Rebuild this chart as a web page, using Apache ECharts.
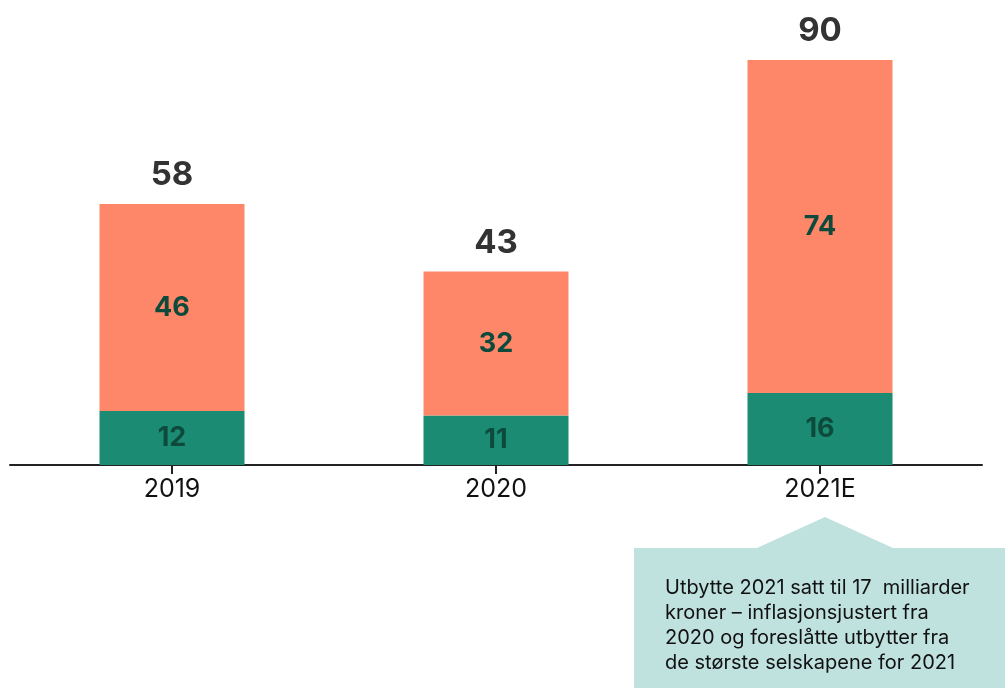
<!DOCTYPE html>
<html>
<head>
<meta charset="utf-8">
<script src="https://cdn.jsdelivr.net/npm/echarts@6/dist/echarts.min.js"></script>
<style>
  html, body { margin: 0; padding: 0; background: #fff; }
  #main { width: 1005px; height: 688px; }
</style>
</head>
<body>
<div id="main"></div>
<script>
//år
let years = ['2019', '2020', '2021E']
//grønn del (nederst)
let greenValues = [12, 11, 16]
//oransje del (øverst)
let orangeValues = [46, 32, 74]
//totaler over søylene
let totals = [58, 43, 90]
//tekst i boksen
let noteLines = [
    'Utbytte 2021 satt til 17  milliarder',
    'kroner – inflasjonsjustert fra',
    '2020 og foreslåtte utbytter fra',
    'de største selskapene for 2021'
]

let font = 'Inter, "Noto Sans", sans-serif'
let myChart = echarts.init(document.getElementById('main'))

let option = {
    animation: false,
    grid: { left: 10, right: 23, top: 15, bottom: 223 },
    xAxis: {
        type: 'category',
        data: years,
        axisLine: { lineStyle: { color: '#222', width: 2 } },
        axisTick: { show: true, alignWithLabel: true, length: 9, lineStyle: { color: '#222', width: 2 } },
        axisLabel: { color: '#111', fontSize: 25, fontFamily: font, margin: 12 }
    },
    yAxis: {
        type: 'value',
        min: 0,
        max: 100,
        show: false,
        splitLine: { show: false }
    },
    series: [
        {
            name: 'green',
            type: 'bar',
            stack: 'total',
            barWidth: 145,
            data: greenValues,
            itemStyle: { color: '#1b8c73' },
            label: {
                show: true,
                position: 'inside',
                color: '#0d4a3c',
                fontSize: 27,
                fontWeight: 'bold',
                fontFamily: font
            }
        },
        {
            name: 'orange',
            type: 'bar',
            stack: 'total',
            barWidth: 145,
            data: orangeValues,
            itemStyle: { color: '#ff8769' },
            label: {
                show: true,
                position: 'inside',
                color: '#0d4a3c',
                fontSize: 27,
                fontWeight: 'bold',
                fontFamily: font
            }
        },
        {
            name: 'sum',
            type: 'bar',
            barWidth: 145,
            barGap: '-100%',
            data: totals,
            z: 1,
            itemStyle: { color: 'rgba(0,0,0,0)' },
            label: {
                show: true,
                position: 'top',
                distance: 12,
                color: '#333',
                fontSize: 33,
                fontWeight: 'bold',
                fontFamily: font
            }
        }
    ],
    graphic: [
        {
            type: 'polygon',
            shape: { points: [[634, 548], [757, 548], [825, 517], [893, 548], [1005, 548], [1005, 688], [634, 688]] },
            style: { fill: '#bfe2df' },
            z: 10
        },
        {
            type: 'text',
            left: 665,
            top: 575,
            z: 11,
            style: {
                text: noteLines.join('\n'),
                fill: '#111',
                font: '20px ' + font,
                lineHeight: 25
            }
        }
    ]
}
myChart.setOption(option)
</script>
</body>
</html>
